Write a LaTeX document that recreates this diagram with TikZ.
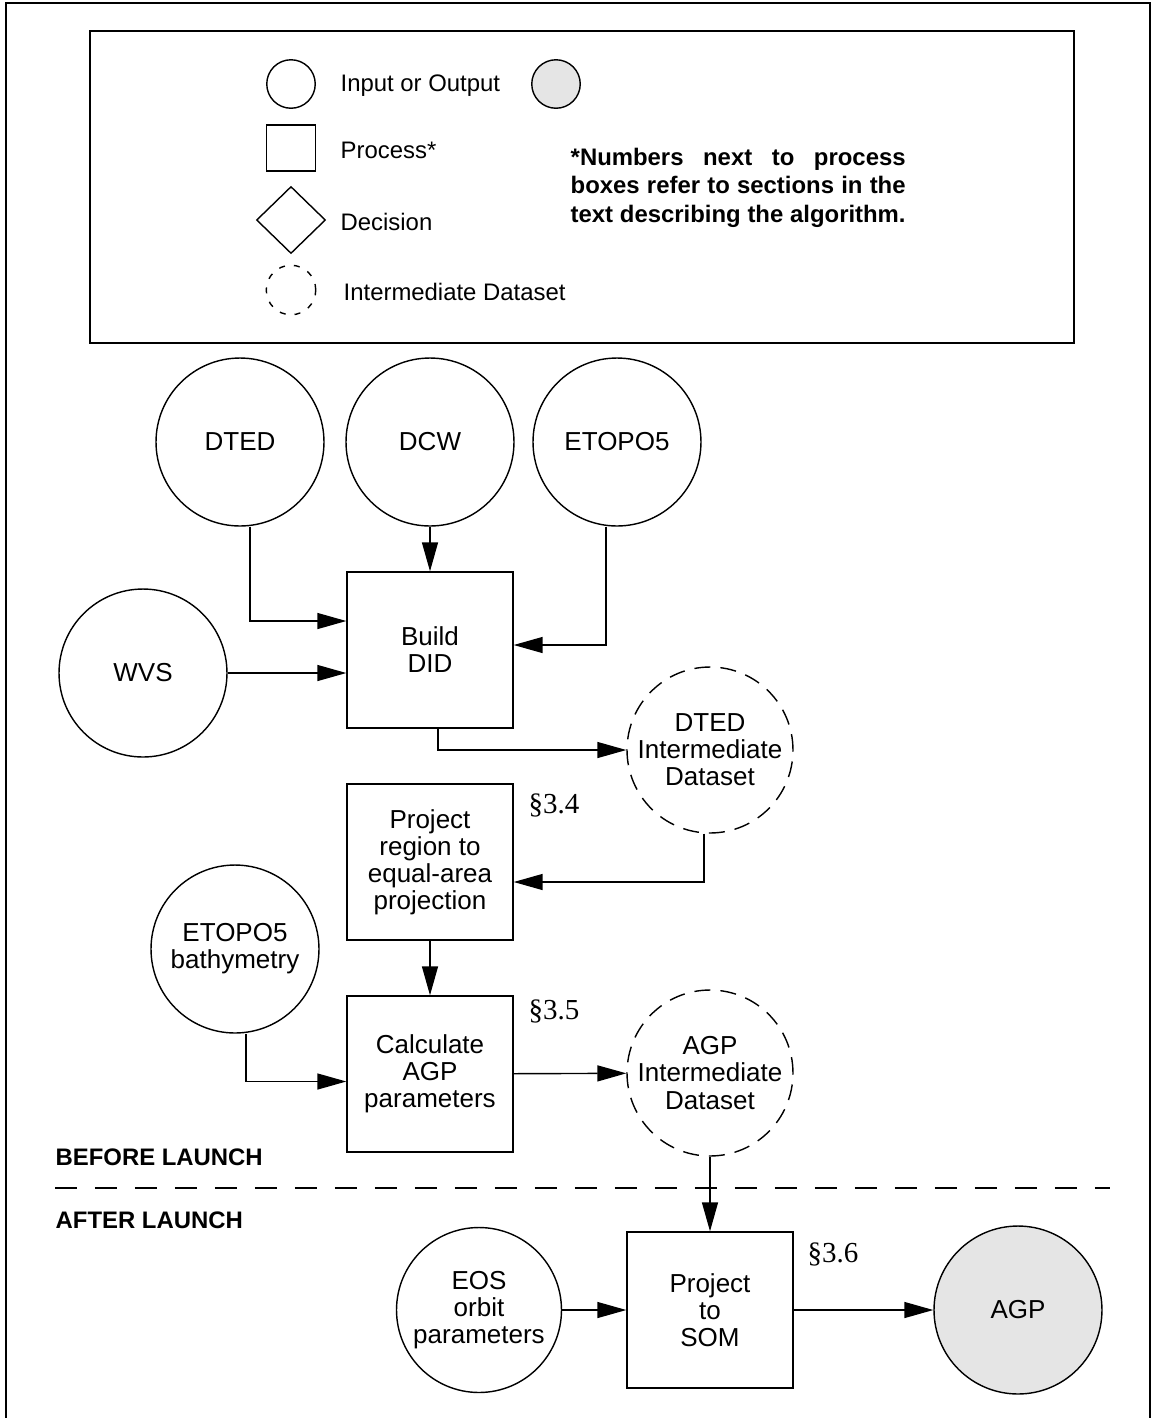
\documentclass[tikz,border=0pt]{standalone}
\usepackage{fontspec}
\setmainfont{Liberation Sans}
\newfontfamily\secfont{Liberation Serif}
\usetikzlibrary{arrows.meta,shapes.geometric}

\definecolor{outgray}{RGB}{229,229,229}
\newcommand{\boxsize}{\fontsize{14.8}{15.4}\selectfont}
\newcommand{\legsize}{\fontsize{13.6}{16.4}\selectfont}

\begin{document}
\begin{tikzpicture}[x=0.02cm, y=-0.02cm, line width=0.8pt,
    >={Triangle[length=5.8mm, width=3.2mm]},
    io/.style = {circle, draw, inner sep=0pt, minimum size=3.36cm, align=center, font=\boxsize},
    inter/.style = {io, minimum size=3.32cm, dash pattern=on 0.32cm off 0.2cm},
    proc/.style = {rectangle, draw, inner sep=0pt, minimum width=3.32cm, minimum height=3.12cm, align=center, font=\boxsize},
    sect/.style = {anchor=base west, inner sep=0pt, font=\secfont\fontsize{16.5}{18}\selectfont},
    legtext/.style = {anchor=west, inner sep=0pt, font=\legsize},
    phase/.style = {anchor=base west, inner sep=0pt, font=\legsize\bfseries}]
    \useasboundingbox (0,0) rectangle (1153,1418);

    % Frame
    \draw (6,1418) -- (6,3) -- (1150,3) -- (1150,1418);

    % Legend
    \node[draw, minimum width=19.68cm, minimum height=6.24cm] (legend) at (582,187) {};
    \node[circle, draw, inner sep=0pt, minimum size=0.97cm] (lgio) at (291,84) {};
    \node[legtext] (lgiotext) at (340,86) {Input or Output};
    \node[circle, draw, fill=outgray, inner sep=0pt, minimum size=0.97cm] (lgout) at (556,84) {};
    \node[draw, inner sep=0pt, minimum width=0.98cm, minimum height=0.92cm] (lgproc) at (291,148) {};
    \node[legtext] (lgproctext) at (340,150) {Process*};
    \node[diamond, draw, inner sep=0pt, minimum width=1.38cm, minimum height=1.34cm] (lgdec) at (291,220) {};
    \node[legtext] (lgdectext) at (340,222) {Decision};
    \node[circle, draw, dash pattern=on 0.12cm off 0.18cm, inner sep=0pt, minimum size=0.99cm] (lgint) at (291,290) {};
    \node[legtext] (lginttext) at (343,292) {Intermediate Dataset};
    \node[anchor=north west, inner sep=0pt, align=left, font=\legsize\bfseries] (note) at (570,147)
        {\makebox[6.7cm][s]{*Numbers next to process}\\
         \makebox[6.7cm][s]{boxes refer to sections in the}\\
         \makebox[6.7cm][s]{text describing the algorithm.}};

    % Nodes
    \node[io] (dted) at (240,442) {DTED};
    \node[io] (dcw) at (430,442) {DCW};
    \node[io] (etopo) at (617,442) {ETOPO5};
    \node[io] (wvs) at (143,673) {WVS};
    \node[proc] (build) at (430,650) {Build\\DID};
    \node[inter] (dtedint) at (710,750) {DTED\\Intermediate\\Dataset};
    \node[proc] (proj) at (430,862) {Project\\region to\\equal-area\\projection};
    \node[io] (bathy) at (235,949) {ETOPO5\\bathymetry};
    \node[proc] (calc) at (430,1074) {Calculate\\AGP\\parameters};
    \node[inter] (agpint) at (710,1073) {AGP\\Intermediate\\Dataset};
    \node[proc] (som) at (710,1310) {Project\\to\\SOM};
    \node[io, minimum size=3.3cm] (eos) at (479,1310) {EOS\\orbit\\parameters};
    \node[io, fill=outgray] (agp) at (1018,1310) {AGP};

    % Section numbers
    \node[sect] (s34) at (528,813) {\S3.4};
    \node[sect] (s35) at (528,1019) {\S3.5};
    \node[sect] (s36) at (807,1262) {\S3.6};

    % Launch phases
    \node[phase] (before) at (55,1165) {BEFORE LAUNCH};
    \node[phase] (after) at (55,1228) {AFTER LAUNCH};
    \draw[dash pattern=on 0.44cm off 0.36cm] (55,1188) -- (1110,1188);

    % Lines
    \draw[->] ([xshift=0.2cm]dted.south) |- ([yshift=0.58cm]build.west);
    \draw[->] (dcw) -- (build);
    \draw[->] ([xshift=-0.22cm]etopo.south) |- ([yshift=0.1cm]build.east);
    \draw[->] (wvs.east) -- (wvs.east -| build.west);
    \draw[->] ([xshift=0.16cm]build.south) |- (dtedint.west);
    \draw[->] ([xshift=-0.12cm]dtedint.south) |- ([yshift=-0.4cm]proj.east);
    \draw[->] (proj) -- (calc);
    \draw[->] ([xshift=0.22cm]bathy.south) |- ([yshift=-0.15cm]calc.west);
    \draw[->] (calc) -- (agpint);
    \draw[->] (agpint) -- (som);
    \draw[->] (eos) -- (som);
    \draw[->] (som) -- (agp);
\end{tikzpicture}
\end{document}
